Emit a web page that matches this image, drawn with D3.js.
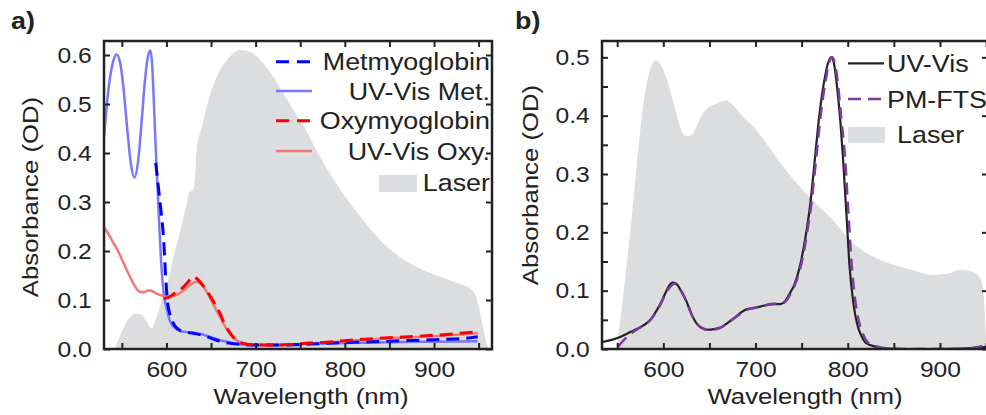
<!DOCTYPE html>
<html lang="en">
<head>
<meta charset="UTF-8">
<title>Absorbance spectra</title>
<style>
  body { margin: 0; background: #fff; }
  svg { display: block; }
  text { font-family: "Liberation Sans", Arial, sans-serif; fill: #222; }
</style>
</head>
<body>
<script src="https://cdn.jsdelivr.net/npm/d3@7"></script>
<script>
// ---- panel a data ----
const laserA_nm = [542, 550, 558, 565, 572, 578, 583, 589, 595, 600, 608, 615, 622, 626, 629, 631, 634, 640, 645, 652, 660, 668, 675, 682, 690, 697, 710, 720, 731, 745, 757, 768, 780, 793, 806, 820, 832, 843, 860, 880, 900, 917, 930, 940, 946, 951, 955, 958, 962];
const laserA_od = [0, 0.035, 0.062, 0.072, 0.07, 0.055, 0.042, 0.065, 0.1, 0.127, 0.19, 0.237, 0.29, 0.321, 0.323, 0.33, 0.406, 0.455, 0.494, 0.535, 0.569, 0.59, 0.603, 0.61, 0.608, 0.603, 0.58, 0.555, 0.522, 0.48, 0.445, 0.406, 0.368, 0.33, 0.297, 0.265, 0.238, 0.216, 0.19, 0.168, 0.152, 0.141, 0.132, 0.124, 0.112, 0.08, 0.045, 0.018, 0];

const metUV_nm = [530, 535, 540, 544, 548, 552, 556, 560, 564, 568, 572, 576, 579, 582, 584, 586, 588, 590, 592, 594, 596, 598, 600, 603, 606, 610, 615, 620, 630, 640, 650, 660, 670, 680, 690, 700, 720, 750, 800, 850, 900, 949];
const metUV_od = [0.433, 0.53, 0.585, 0.601, 0.585, 0.53, 0.45, 0.38, 0.35, 0.38, 0.46, 0.55, 0.595, 0.609, 0.58, 0.5, 0.41, 0.33, 0.25, 0.18, 0.13, 0.1, 0.085, 0.062, 0.05, 0.042, 0.037, 0.035, 0.033, 0.03, 0.024, 0.018, 0.014, 0.01, 0.008, 0.008, 0.008, 0.01, 0.012, 0.014, 0.015, 0.016];

const met_nm = [588, 591, 594, 597, 599, 601, 604, 607, 612, 620, 630, 640, 650, 660, 670, 680, 700, 730, 760, 800, 850, 900, 930, 949];
const met_od = [0.38, 0.33, 0.28, 0.22, 0.15, 0.1, 0.07, 0.055, 0.042, 0.035, 0.032, 0.028, 0.022, 0.016, 0.012, 0.01, 0.008, 0.008, 0.01, 0.013, 0.016, 0.019, 0.021, 0.025];

const oxyUV_nm = [530, 535, 540, 546, 552, 559, 565, 570, 575, 580, 584, 590, 595, 600, 607, 615, 622, 628, 634, 640, 645, 650, 655, 660, 665, 671, 677, 684, 695, 720, 760, 800, 850, 900, 949];
const oxyUV_od = [0.248, 0.235, 0.218, 0.199, 0.175, 0.148, 0.127, 0.117, 0.116, 0.12, 0.118, 0.112, 0.109, 0.107, 0.108, 0.114, 0.124, 0.133, 0.137, 0.13, 0.117, 0.1, 0.083, 0.066, 0.048, 0.032, 0.02, 0.013, 0.009, 0.008, 0.011, 0.016, 0.022, 0.026, 0.032];

const oxy_nm = [597, 602, 608, 615, 622, 628, 631, 635, 640, 645, 650, 655, 660, 665, 670, 676, 682, 690, 700, 720, 740, 760, 780, 800, 850, 900, 949];
const oxy_od = [0.103, 0.105, 0.112, 0.12, 0.132, 0.145, 0.148, 0.142, 0.132, 0.12, 0.105, 0.09, 0.073, 0.052, 0.036, 0.022, 0.014, 0.01, 0.008, 0.008, 0.009, 0.012, 0.014, 0.017, 0.023, 0.028, 0.035];

// ---- panel b data ----
const laserB_nm = [549, 555, 560, 566, 571, 576, 582, 587, 592, 597, 603, 609, 614, 619, 623, 628, 632, 637, 643, 650, 658, 668, 676, 683, 690, 698, 705, 712, 721, 730, 739, 748, 757, 766, 775, 784, 793, 802, 811, 821, 838, 857, 875, 893, 908, 922, 936, 942, 946, 948, 949.5, 950.5];
const laserB_od = [0, 0.07, 0.141, 0.23, 0.312, 0.39, 0.455, 0.485, 0.495, 0.488, 0.466, 0.435, 0.404, 0.378, 0.366, 0.365, 0.369, 0.385, 0.404, 0.415, 0.421, 0.426, 0.418, 0.404, 0.392, 0.381, 0.367, 0.352, 0.332, 0.312, 0.295, 0.278, 0.263, 0.249, 0.235, 0.221, 0.204, 0.187, 0.175, 0.164, 0.151, 0.141, 0.133, 0.127, 0.129, 0.136, 0.132, 0.125, 0.11, 0.08, 0.03, 0];

const uv_nm = [534, 545, 555, 567, 578, 586, 592, 597, 602, 606, 610, 614, 619, 625, 630, 636, 642, 648, 655, 662, 669, 676, 683, 690, 698, 706, 714, 721, 727, 732, 737, 742, 748, 754, 759, 764, 769, 774, 779, 782, 785, 788, 792, 795, 799, 802, 806, 810, 815, 820, 830, 840, 860, 900, 930, 952];
const uv_od = [0.012, 0.016, 0.022, 0.031, 0.04, 0.05, 0.064, 0.078, 0.095, 0.108, 0.114, 0.112, 0.1, 0.082, 0.062, 0.044, 0.036, 0.033, 0.034, 0.037, 0.044, 0.052, 0.061, 0.068, 0.07, 0.073, 0.076, 0.077, 0.077, 0.082, 0.095, 0.11, 0.141, 0.19, 0.244, 0.32, 0.398, 0.455, 0.492, 0.5, 0.49, 0.455, 0.39, 0.324, 0.22, 0.141, 0.08, 0.044, 0.022, 0.01, 0.004, 0.001, 0, 0, 0.001, 0.004];

const pm_nm = [551, 557, 563, 570, 578, 586, 592, 597, 602, 607, 612, 616, 621, 626, 631, 637, 643, 650, 657, 664, 671, 678, 685, 692, 700, 708, 716, 723, 729, 734, 739, 744, 750, 756, 761, 766, 771, 776, 780, 783, 786, 789, 793, 797, 801, 804, 808, 812, 817, 822, 832, 845, 870, 920, 940, 952];
const pm_od = [0.004, 0.015, 0.024, 0.032, 0.04, 0.05, 0.063, 0.077, 0.093, 0.106, 0.112, 0.108, 0.095, 0.078, 0.058, 0.042, 0.035, 0.033, 0.034, 0.038, 0.046, 0.054, 0.062, 0.068, 0.071, 0.074, 0.077, 0.078, 0.078, 0.084, 0.098, 0.115, 0.148, 0.2, 0.255, 0.33, 0.405, 0.46, 0.492, 0.5, 0.49, 0.46, 0.395, 0.33, 0.225, 0.15, 0.085, 0.048, 0.024, 0.011, 0.004, 0.001, 0, 0, 0.003, 0.008];

const xTickLabels = [600, 700, 800, 900];
const legendA = ["Metmyoglobin", "UV-Vis Met.", "Oxymyoglobin", "UV-Vis Oxy.", "Laser"];
const legendB = ["UV-Vis", "PM-FTS", "Laser"];

const W = 986, H = 415;
const SX = 1.12; // text is drawn a bit wider than Arial

const svg = d3.select("body").append("svg")
  .attr("width", W).attr("height", H);

function pts(nm, od) { return nm.map((d, i) => [d, od[i]]); }

function panel(opt) {
  const x = d3.scaleLinear().domain(opt.xd).range(opt.xr);
  const y = d3.scaleLinear().domain(opt.yd).range([349, 41]);
  const g = svg.append("g");
  const defsId = "clip" + opt.name;
  svg.append("clipPath").attr("id", defsId).append("rect")
    .attr("x", opt.xr[0]).attr("y", 41)
    .attr("width", opt.xr[1] - opt.xr[0]).attr("height", 308);
  const plot = g.append("g").attr("clip-path", `url(#${defsId})`);
  return { x, y, g, plot };
}

function drawAxes(p, o) {
  const { x, y, g } = p;
  const fmtY = d3.format(".1f");
  const bottom = g.append("g").attr("transform", "translate(0,349)")
    .call(d3.axisBottom(x).tickValues(d3.range(550, 951, 50)).tickSize(-6).tickPadding(12)
      .tickFormat(d => xTickLabels.includes(d) ? d : ""));
  const top = g.append("g").attr("transform", "translate(0,41)")
    .call(d3.axisTop(x).tickValues(d3.range(550, 951, 50)).tickSize(-6).tickFormat(""));
  const left = g.append("g").attr("transform", `translate(${o.xr[0]},0)`)
    .call(d3.axisLeft(y).tickValues(o.yTicks).tickSize(-6).tickPadding(11)
      .tickFormat(d => o.yLabels.some(v => Math.abs(v - d) < 1e-9) ? fmtY(d) : ""));
  const right = g.append("g").attr("transform", `translate(${o.xr[1]},0)`)
    .call(d3.axisRight(y).tickValues(o.yLabels).tickSize(-6).tickFormat(""));
  [bottom, top, left, right].forEach(a => {
    a.select(".domain").remove();
    a.selectAll(".tick line").attr("stroke", "#222").attr("stroke-width", 2);
    a.selectAll("text").attr("font-size", 22).attr("fill", "#222")
      .attr("font-family", '"Liberation Sans", Arial, sans-serif')
      .attr("transform", `scale(${SX},1)`);
  });
  g.append("rect").attr("x", o.xr[0]).attr("y", 41)
    .attr("width", o.xr[1] - o.xr[0]).attr("height", 308)
    .attr("fill", "none").attr("stroke", "#222").attr("stroke-width", 2.5);

  g.append("text").attr("transform", `translate(${o.xTitle},404) scale(${SX},1)`)
    .attr("text-anchor", "middle").attr("font-size", 23).text("Wavelength (nm)");
  g.append("text").attr("transform", `translate(${o.yTitleX},${o.yTitleY}) rotate(-90) scale(${SX},1)`)
    .attr("text-anchor", "middle").attr("font-size", 23).text("Absorbance (OD)");
  g.append("text").attr("transform", `translate(${o.tagX},29) scale(${SX},1)`)
    .attr("font-size", 24).attr("font-weight", "bold").text(o.tag);
}

function addLine(p, nm, od, color, width, dash) {
  const line = d3.line().x(d => p.x(d[0])).y(d => p.y(d[1])).curve(d3.curveMonotoneX);
  p.plot.append("path").datum(pts(nm, od)).attr("d", line)
    .attr("fill", "none").attr("stroke", color).attr("stroke-width", width)
    .attr("stroke-dasharray", dash || null).attr("stroke-linejoin", "round");
}

function addLaser(p, nm, od) {
  const area = d3.area().x(d => p.x(d[0])).y0(p.y(0)).y1(d => p.y(d[1])).curve(d3.curveMonotoneX);
  p.plot.append("path").datum(pts(nm, od)).attr("d", area).attr("fill", "#dcdddf");
}

// ---- panel a ----
const optA = { name: "a", xd: [530, 965], xr: [104, 492], yd: [0, 0.6286],
  yTicks: d3.range(0, 0.61, 0.1), yLabels: d3.range(0, 0.61, 0.1),
  xTitle: 311, yTitleX: 38, yTitleY: 197, tagX: 11, tag: "a)" };
const pA = panel(optA);
addLaser(pA, laserA_nm, laserA_od);
addLine(pA, metUV_nm, metUV_od, "#7878ff", 2.5);
addLine(pA, oxyUV_nm, oxyUV_od, "#f27878", 2.5);
addLine(pA, met_nm, met_od, "#0000ff", 3, "13,7");
addLine(pA, oxy_nm, oxy_od, "#ff0000", 3, "13,7");
drawAxes(pA, optA);

// legend a
const legA = svg.append("g");
const styleA = [["#0000ff", 3, "13,8"], ["#7878ff", 2.5, null], ["#ff0000", 3, "13,8"], ["#f27878", 2.5, null]];
const rowA = [61.7, 91, 120.7, 151, 182.3];
legendA.forEach((t, i) => {
  if (i < 4) {
    legA.append("line").attr("x1", 276).attr("x2", 312).attr("y1", rowA[i]).attr("y2", rowA[i])
      .attr("stroke", styleA[i][0]).attr("stroke-width", styleA[i][1]).attr("stroke-dasharray", styleA[i][2]);
  } else {
    legA.append("rect").attr("x", 379).attr("y", 175).attr("width", 38).attr("height", 17).attr("fill", "#dcdddf");
  }
  legA.append("text").attr("transform", `translate(490,${rowA[i]}) scale(${SX},1)`)
    .attr("text-anchor", "end").attr("dy", "0.36em").attr("font-size", 24).text(t);
});

// ---- panel b ----
const optB = { name: "b", xd: [533.5, 952.1], xr: [602, 988], yd: [0, 0.528],
  yTicks: d3.range(0, 0.526, 0.05), yLabels: d3.range(0, 0.51, 0.1),
  xTitle: 805, yTitleX: 538, yTitleY: 185, tagX: 515, tag: "b)" };
const pB = panel(optB);
addLaser(pB, laserB_nm, laserB_od);
addLine(pB, uv_nm, uv_od, "#222222", 2.2);
addLine(pB, pm_nm, pm_od, "#7d3c9c", 2.5, "12,7");
drawAxes(pB, optB);

// legend b
const legB = svg.append("g");
const rowB = [63.3, 99, 134.3];
legB.append("line").attr("x1", 848).attr("x2", 884).attr("y1", rowB[0]).attr("y2", rowB[0])
  .attr("stroke", "#222").attr("stroke-width", 2.2);
legB.append("line").attr("x1", 848).attr("x2", 884).attr("y1", rowB[1]).attr("y2", rowB[1])
  .attr("stroke", "#7d3c9c").attr("stroke-width", 2.5).attr("stroke-dasharray", "13,7");
legB.append("rect").attr("x", 848).attr("y", 127).attr("width", 37).attr("height", 16).attr("fill", "#dcdddf");
legendB.forEach((t, i) => {
  legB.append("text").attr("transform", `translate(${i < 2 ? 887 : 897},${rowB[i]}) scale(${SX},1)`)
    .attr("dy", "0.36em").attr("font-size", 24).text(t);
});
</script>
</body>
</html>
